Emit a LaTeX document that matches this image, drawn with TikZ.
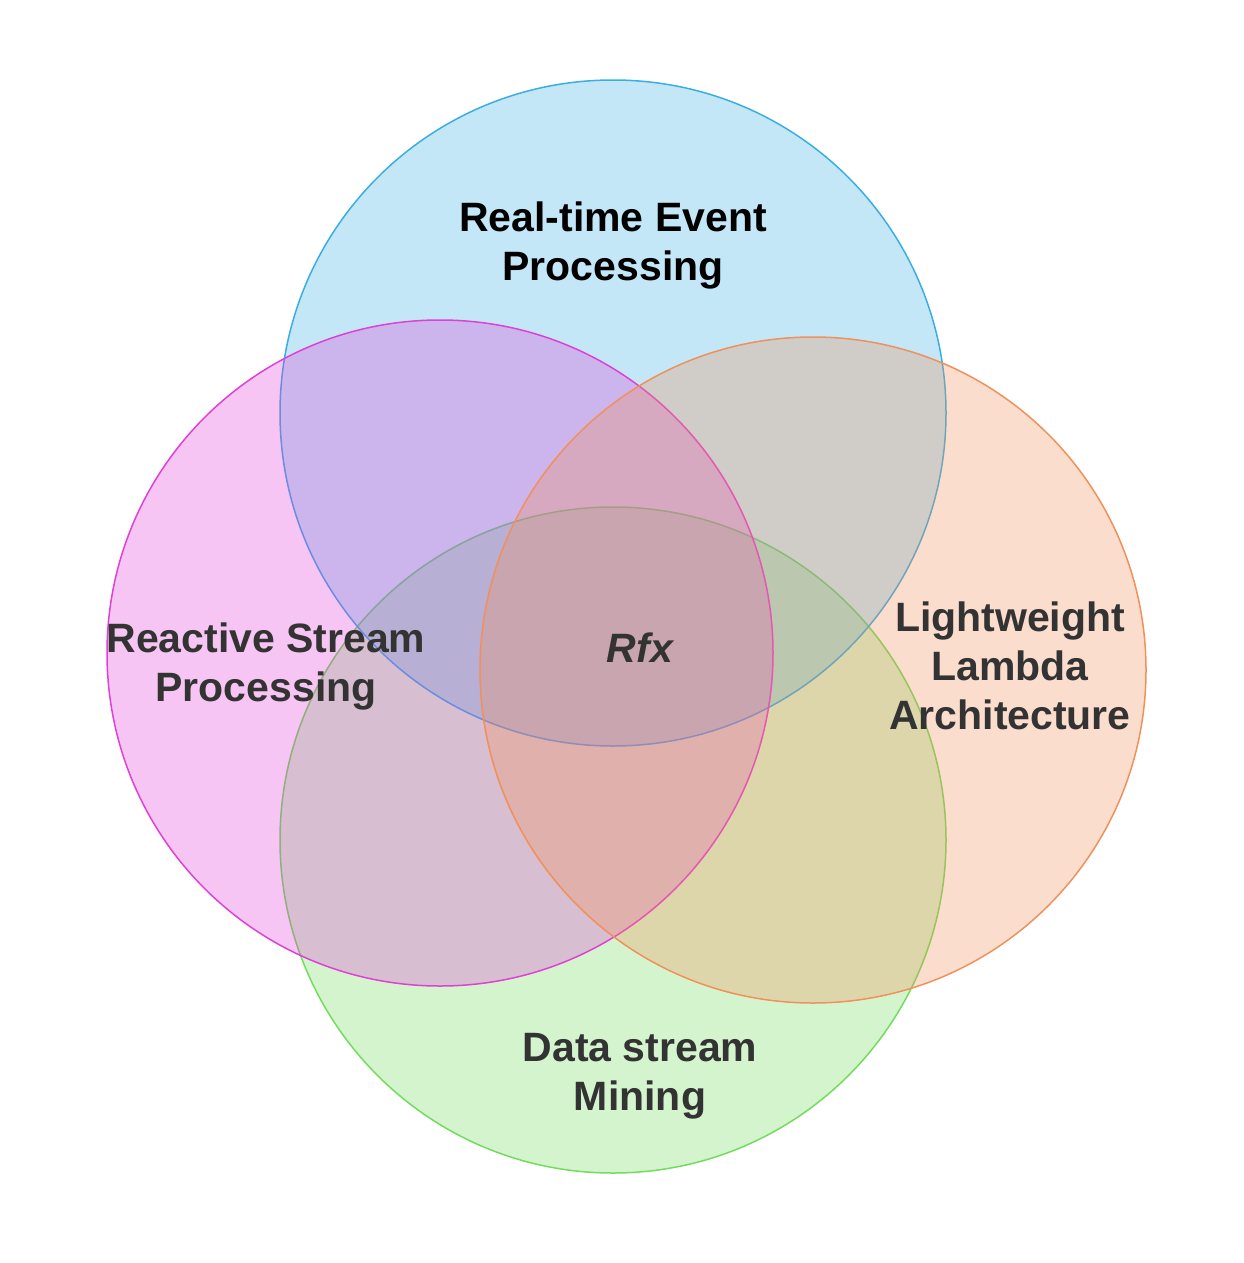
\documentclass[tikz,border=0pt]{standalone}
\usepackage{fontspec}
\setmainfont{Liberation Sans}
\begin{document}
\begin{tikzpicture}[x=1pt,y=-1pt,
  venn/.style={circle,minimum size=666pt,inner sep=0pt,line width=1.5pt,fill opacity=0.3},
  lbl/.style={font=\fontsize{41}{49}\selectfont\bfseries,align=center,text=black!80}]
\useasboundingbox (0,0) rectangle (1243,1263);
\definecolor{cb}{HTML}{3AAEE3}
\definecolor{cp}{HTML}{E040D6}
\definecolor{co}{HTML}{F0905A}
\definecolor{cg}{HTML}{72DC5C}
\node[venn,draw=cg,fill=cg] (green) at (613,840) {};
\node[venn,draw=cb,fill=cb] (blue) at (613,413) {};
\node[venn,draw=cp,fill=cp] (pink) at (440,653) {};
\node[venn,draw=co,fill=co] (orange) at (813,670) {};
\node[lbl,text=black] (t1) at (613,245) {Real-time Event\\Processing};
\node[lbl] (t2) at (266,666) {Reactive Stream\\Processing};
\node[lbl] (t3) at (1010,666) {Lightweight\\Lambda\\Architecture};
\node[lbl] (t4) at (640,1076) {Data stream\\Mining};
\node[lbl,font=\fontsize{41}{49}\selectfont\bfseries\itshape] (t5) at (640,648) {Rfx};
\end{tikzpicture}
\end{document}
